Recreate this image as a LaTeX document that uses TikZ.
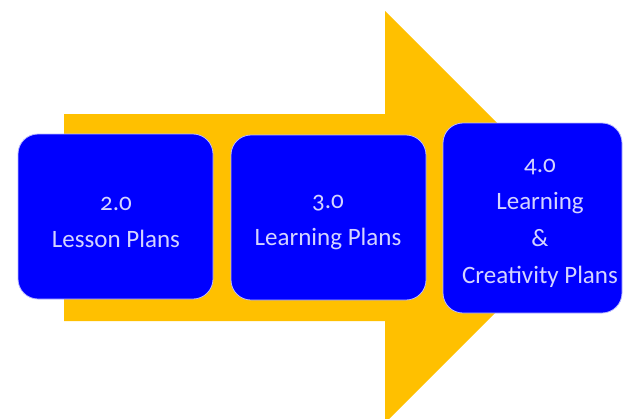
\documentclass[tikz,border=0pt]{standalone}
\usepackage{fontspec}
\setmainfont{Carlito}[Numbers=OldStyle]
\definecolor{arrowgold}{HTML}{FFC000}
\definecolor{boxblue}{HTML}{0000FF}
\definecolor{boxedge}{HTML}{B8B8FF}
\definecolor{boxtext}{HTML}{D4D4FF}
\tikzset{
  planbox/.style={draw=boxedge, line width=0.8pt, fill=boxblue, rounded corners=20pt, inner sep=0pt},
  plantext/.style={text=boxtext, align=center, inner sep=0pt, font=\fontsize{25}{37}\selectfont}
}
\begin{document}
\begin{tikzpicture}[x=1pt,y=-1pt]
\useasboundingbox (0,0) rectangle (623,418);
\clip (0,0) rectangle (623,418);
\fill[arrowgold] (64,114) -- (385,114) -- (385,11) -- (591,217) -- (385,423) -- (385,321) -- (64,321) -- cycle;
\node[planbox, minimum width=195pt, minimum height=165pt] (b1) at (115.5,216.5) {};
\node[planbox, minimum width=195pt, minimum height=165pt] (b2) at (328.5,217.5) {};
\node[planbox, minimum width=179pt, minimum height=190pt] (b3) at (532.5,218) {};
\node[plantext] (l1) at (116,222.5) {2.0\\Lesson Plans};
\node[plantext] (l2) at (328,222.5) {3.0\\Learning Plans};
\node[plantext] (l3) at (540,223) {4.0\\Learning\\\&\\Creativity Plans};
\end{tikzpicture}
\end{document}
